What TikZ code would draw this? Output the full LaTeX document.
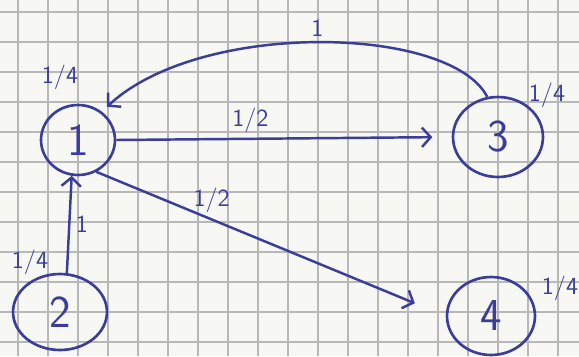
\documentclass[tikz,border=0pt]{standalone}
\usetikzlibrary{arrows.meta,positioning,shapes.geometric}
\definecolor{Ink}{HTML}{3B3D9C}
\definecolor{GridGray}{HTML}{B8B8B8}
\definecolor{Paper}{HTML}{F7F7F3}

\begin{document}
\begin{tikzpicture}[x=0.02cm, y=-0.02cm,
  state/.style={ellipse, draw=Ink, line width=1.5pt, inner sep=0pt,
                font=\sffamily\fontsize{26}{26}\selectfont\color{Ink}},
  wlabel/.style={font=\sffamily\fontsize{14}{14}\selectfont\color{Ink}, inner sep=3pt},
  edge/.style={draw=Ink, line width=1.4pt, -{Straight Barb[length=5pt,width=11pt]}}]
  % paper and grid
  \fill[Paper] (0,0) rectangle (579,356);
  \useasboundingbox (0,0) rectangle (579,356);
  \foreach \gx in {18,48,...,578}
    \draw[GridGray, line width=0.6pt] (\gx,0) -- (\gx,356);
  \foreach \gy in {12,42,...,355}
    \draw[GridGray, line width=0.6pt] (0,\gy) -- (579,\gy);

  % states
  \node[state, minimum width=1.48cm, minimum height=1.40cm] (n1) at (78,140) {1};
  \node[state, minimum width=1.80cm, minimum height=1.60cm] (n3) at (498,137) {3};
  \node[state, minimum width=1.88cm, minimum height=1.52cm] (n2) at (60,312) {2};
  \node[state, minimum width=1.76cm, minimum height=1.56cm] (n4) at (491,316) {4};

  % initial weights
  \node[wlabel] (w1) at (60,77) {1/4};
  \node[wlabel] (w3) at (547,95) {1/4};
  \node[wlabel] (w2) at (30,262) {1/4};
  \node[wlabel] (w4) at (560,288) {1/4};

  % transitions
  \draw[edge, shorten >=4pt] (n3.105) .. controls (450,25) and (200,20) .. (n1.50)
    node[wlabel, pos=0.5, above] {1};
  \draw[edge, shorten >=11pt] (n1.east) -- (n3.west)
    node[wlabel, pos=0.4, above] {1/2};
  \draw[edge, shorten >=19pt] (n1.-60) -- (n4.west)
    node[wlabel, pos=0.33, above] {1/2};
  \draw[edge] (n2.80) -- (n1.-100)
    node[wlabel, midway, right] {1};
\end{tikzpicture}
\end{document}
